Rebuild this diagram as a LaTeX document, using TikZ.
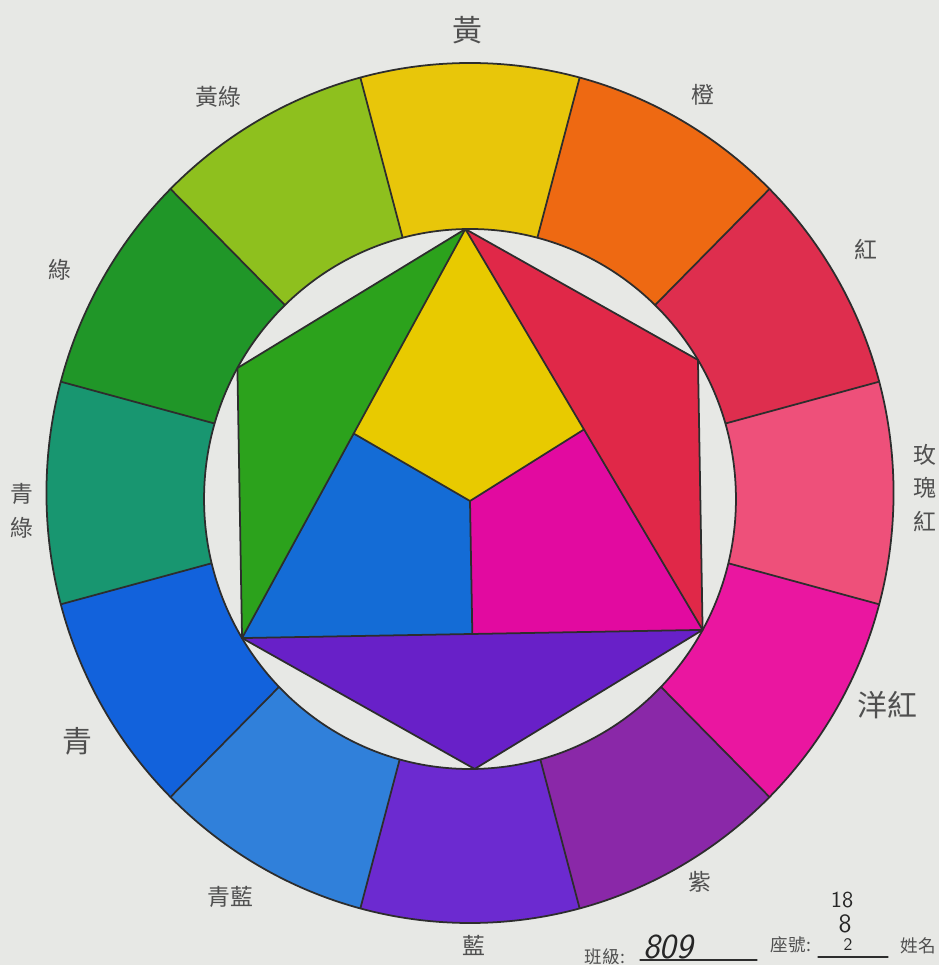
\documentclass[tikz,border=0pt]{standalone}
\usepackage{fontspec}
\newfontfamily\cjk{Noto Sans CJK TC}
\usetikzlibrary{calc}

\definecolor{paper}{RGB}{231,232,229}
\definecolor{inkgray}{RGB}{45,45,45}
\definecolor{txtgray}{RGB}{80,80,80}
% 色環十二色
\definecolor{cHuang}{RGB}{232,198,10}
\definecolor{cCheng}{RGB}{238,105,18}
\definecolor{cHong}{RGB}{222,46,78}
\definecolor{cMeigui}{RGB}{238,80,122}
\definecolor{cYanghong}{RGB}{234,22,160}
\definecolor{cZi}{RGB}{138,40,168}
\definecolor{cLan}{RGB}{108,42,208}
\definecolor{cQinglan}{RGB}{48,128,218}
\definecolor{cQing}{RGB}{18,98,220}
\definecolor{cQinglv}{RGB}{24,150,112}
\definecolor{cLv}{RGB}{32,150,40}
\definecolor{cHuanglv}{RGB}{142,192,30}
% 中央六邊形
\definecolor{inYellow}{RGB}{232,202,0}
\definecolor{inBlue}{RGB}{20,108,214}
\definecolor{inMag}{RGB}{226,10,160}
\definecolor{inGreen}{RGB}{44,162,28}
\definecolor{inRed}{RGB}{224,40,72}
\definecolor{inPurple}{RGB}{104,32,200}

\begin{document}
\begin{tikzpicture}[x=0.02cm, y=0.02cm, line join=round, line cap=round,
	ink/.style={draw=inkgray, line width=1pt},
	lbl/.style={font=\cjk\fontsize{13}{19}\selectfont, text=txtgray, align=center, inner sep=0pt},
	biglbl/.style={font=\cjk\fontsize{17}{20}\selectfont, text=txtgray, inner sep=0pt},
	formtxt/.style={font=\cjk\fontsize{10}{12}\selectfont, text=txtgray, inner sep=0pt},
	hand/.style={font=\sffamily\slshape, text=black!85, inner sep=0pt}]

	% 背景
	\fill[paper] (0,0) rectangle (939,965);
	\useasboundingbox (0,0) rectangle (939,965);

	\begin{scope}[shift={(470,472)}, xscale=0.985]
		% 色環
		\foreach \a/\c in {90/cHuang, 60/cCheng, 30/cHong, 0/cMeigui, -30/cYanghong, -60/cZi,
			-90/cLan, -120/cQinglan, -150/cQing, -180/cQinglv, -210/cLv, -240/cHuanglv} {
			\pgfmathsetmacro{\s}{\a-15}
			\pgfmathsetmacro{\e}{\a+15}
			\fill[\c] (0,0) -- (\s:430) arc (\s:\e:430) -- cycle;
		}
		\foreach \a in {15,45,...,345} {
			\draw[ink] (0,0) -- (\a:430);
		}
		\draw[ink] (0,0) circle (430);

		% 內圓
		\coordinate (C) at (0,-6);
		\fill[paper] (C) circle (270);
		\draw[ink] (C) circle (270);

		% 六邊形頂點
		\coordinate (T) at ($(C)+(91:270)$);
		\coordinate (UL) at ($(C)+(151:270)$);
		\coordinate (LL) at ($(C)+(211:270)$);
		\coordinate (B) at ($(C)+(271:270)$);
		\coordinate (LR) at ($(C)+(331:270)$);
		\coordinate (UR) at ($(C)+(31:270)$);
		\coordinate (O) at ($(C)+(0,-2)$);
		\coordinate (mL) at ($(T)!0.5!(LL)$);
		\coordinate (mR) at ($(T)!0.5!(LR)$);
		\coordinate (mB) at ($(LL)!0.5!(LR)$);

		% 三間色三角形
		\fill[inGreen] (T) -- (UL) -- (LL) -- cycle;
		\fill[inRed] (T) -- (UR) -- (LR) -- cycle;
		\fill[inPurple] (LL) -- (B) -- (LR) -- cycle;
		% 三原色
		\fill[inYellow] (T) -- (mL) -- (O) -- (mR) -- cycle;
		\fill[inBlue] (LL) -- (mL) -- (O) -- (mB) -- cycle;
		\fill[inMag] (LR) -- (mR) -- (O) -- (mB) -- cycle;

		\draw[ink] (T) -- (UL) -- (LL) -- (B) -- (LR) -- (UR) -- cycle;
		\draw[ink] (T) -- (LL) -- (LR) -- cycle;
		\draw[ink] (mL) -- (O) -- (mR);
		\draw[ink] (O) -- (mB);
	\end{scope}

	% 色名
	\node[biglbl] (huang) at (467,935) {黃};
	\node[lbl] (cheng) at (703,870) {橙};
	\node[lbl] (hong) at (866,715) {紅};
	\node[lbl] (meigui) at (925,477) {玫\\瑰\\紅};
	\node[biglbl] (yanghong) at (887,260) {洋紅};
	\node[lbl] (zi) at (700,83) {紫};
	\node[lbl] (lan) at (474,20) {藍};
	\node[lbl] (qinglan) at (230,68) {青藍};
	\node[biglbl] (qing) at (77,224) {青};
	\node[lbl] (qinglv) at (22,454) {青\\綠};
	\node[lbl] (lv) at (60,695) {綠};
	\node[lbl] (huanglv) at (218,868) {黃綠};

	% 班級座號
	\node[formtxt] (banji) at (605,8) {班級:};
	\draw[inkgray, line width=0.6pt] (640,5) -- (757,5);
	\node[hand, font=\sffamily\slshape\fontsize{20}{22}\selectfont] (classno) at (668,18) {809};
	\node[formtxt] (zuohao) at (791,20) {座號:};
	\draw[inkgray, line width=0.6pt] (818,8) -- (888,8);
	\node[hand, font=\sffamily\fontsize{10}{11}\selectfont] (seat) at (848,20) {2};
	\node[hand, font=\sffamily\fontsize{15}{16}\selectfont] (eight) at (845,41) {8};
	\node[hand, font=\sffamily\fontsize{13}{14}\selectfont] (eighteen) at (842,65) {18};
	\node[formtxt] (xingming) at (918,19) {姓名};
\end{tikzpicture}
\end{document}
